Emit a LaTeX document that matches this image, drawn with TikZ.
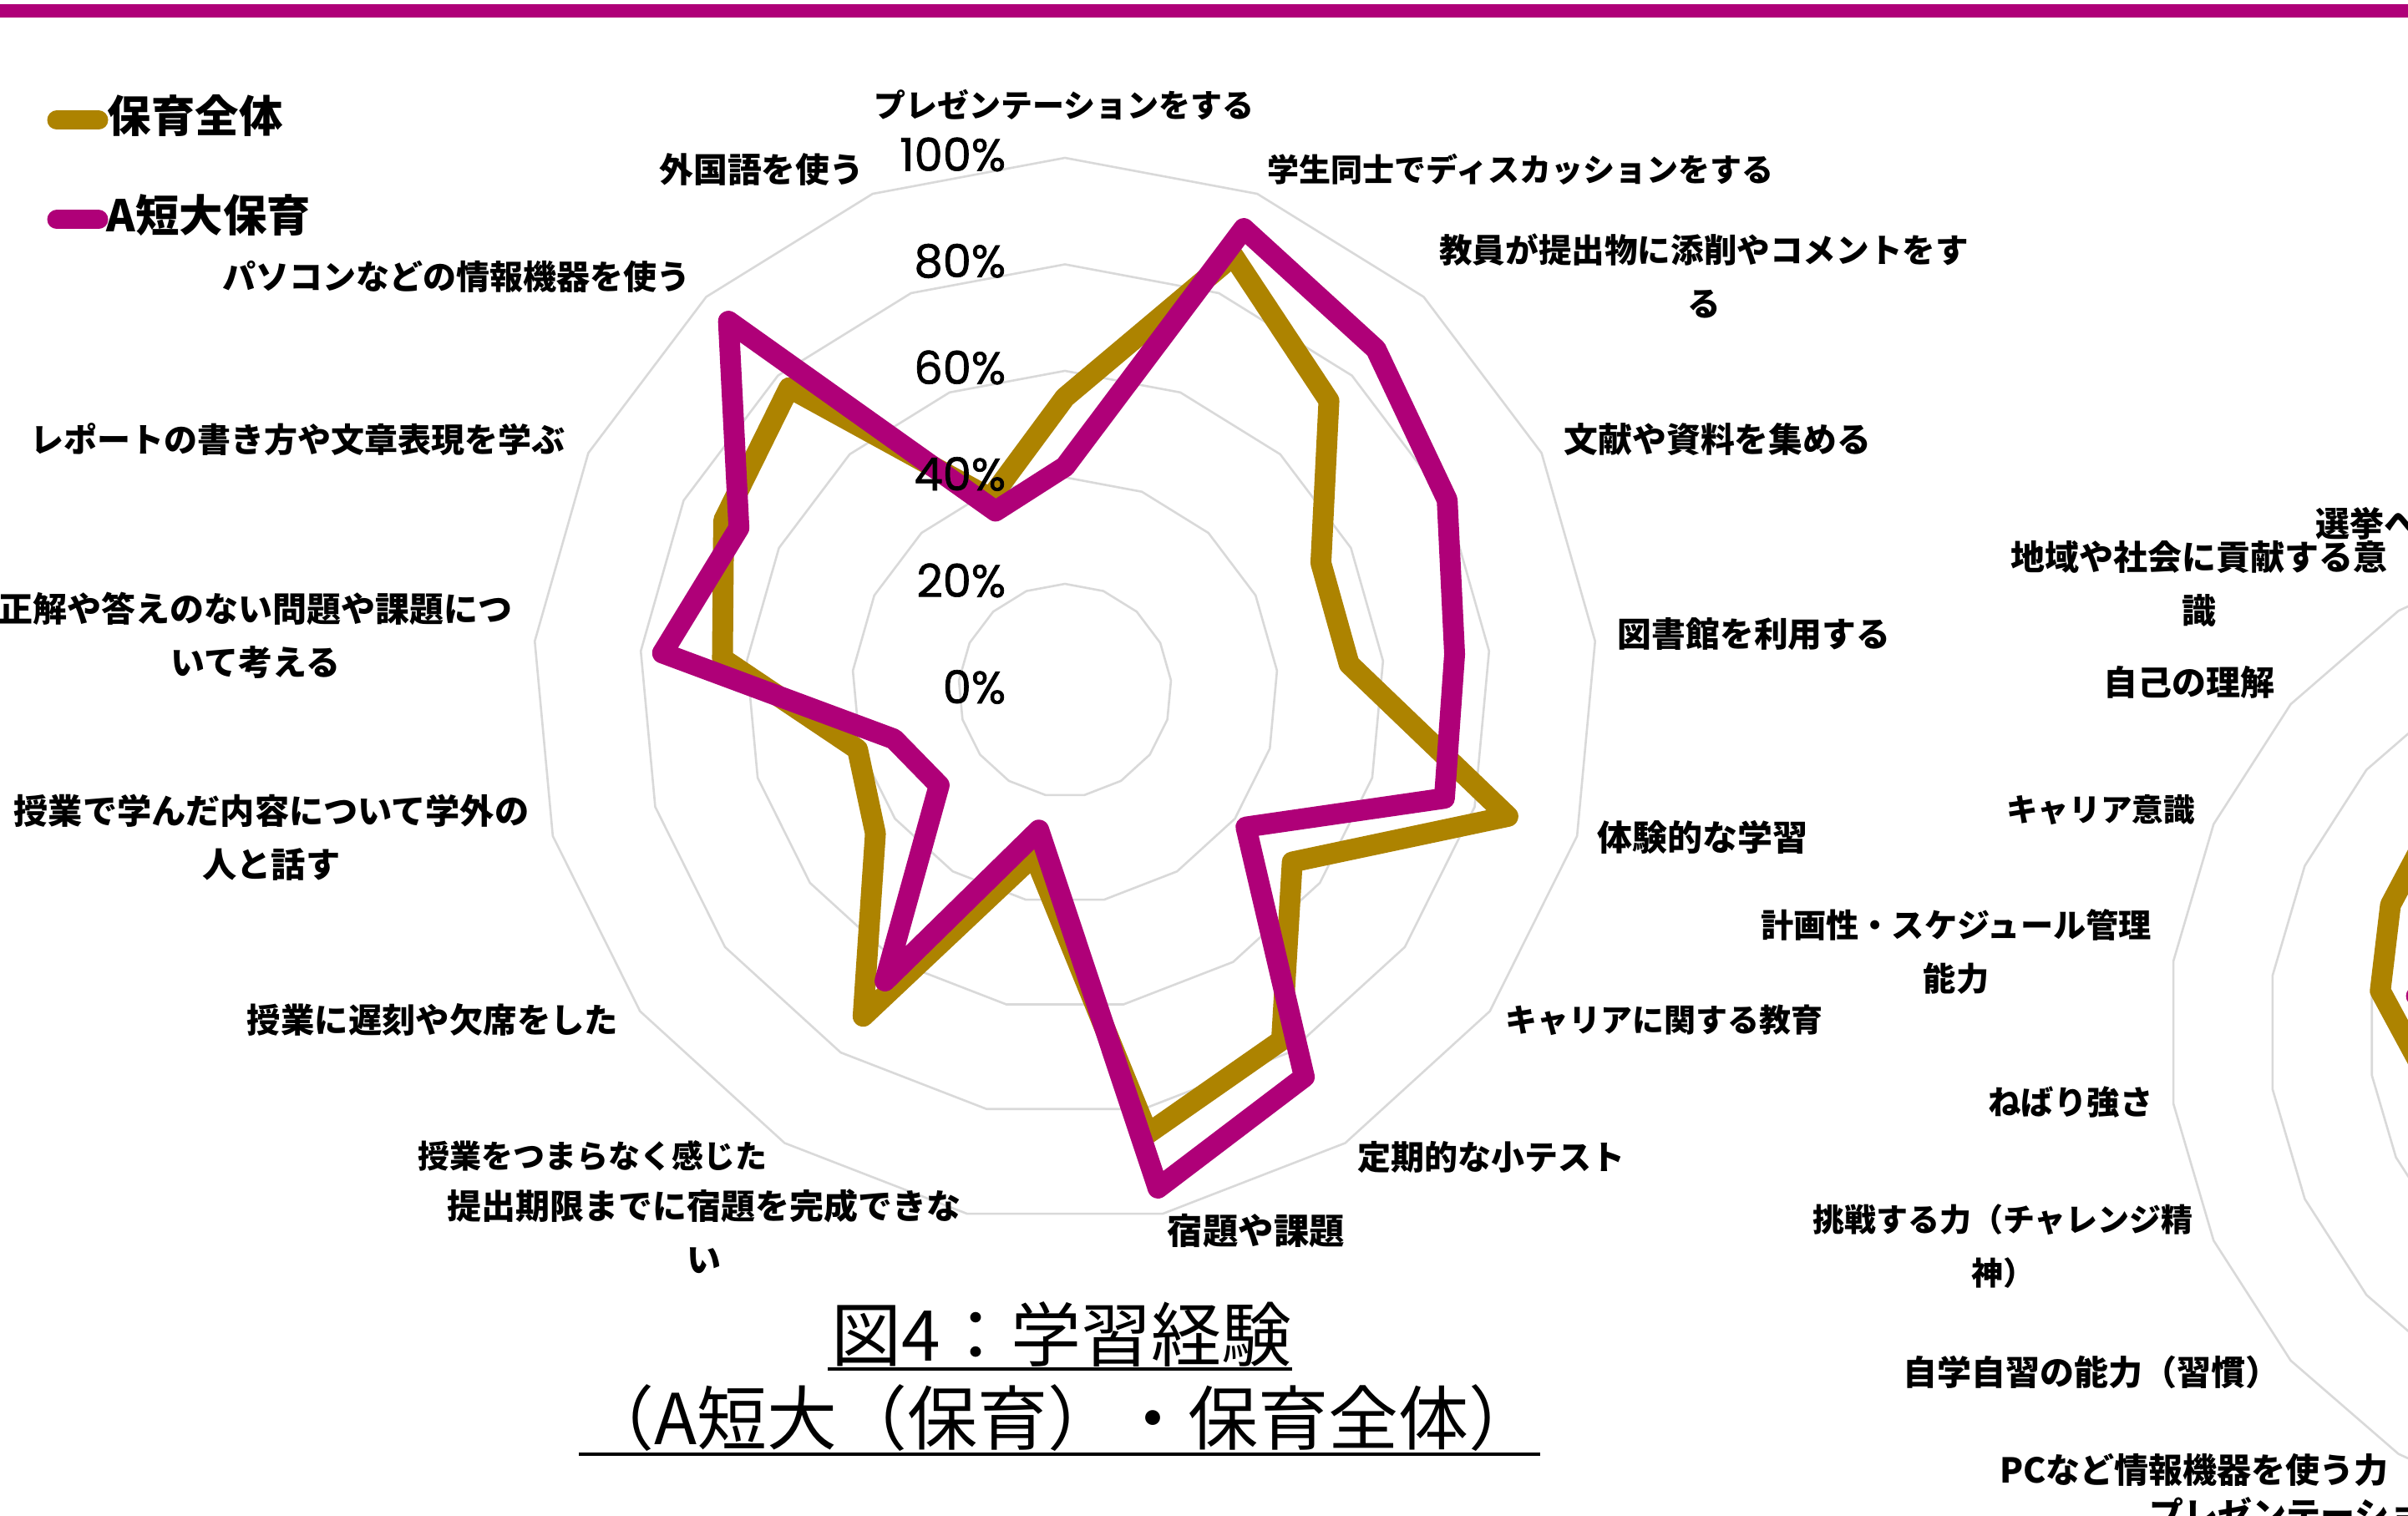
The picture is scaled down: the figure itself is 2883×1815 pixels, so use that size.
\documentclass[tikz,border=0pt]{standalone}
\usepackage{fontspec}
\setmainfont{Noto Sans CJK JP}
\newfontfamily\tickfont{Poppins}[FakeBold=1.2]
\definecolor{gold}{HTML}{AD8300}
\definecolor{plum}{HTML}{AF0078}
\definecolor{gridgray}{HTML}{D9D9D9}
\begin{document}
\begin{tikzpicture}[x=0.25pt,y=-0.25pt,
  lab/.style={font=\bfseries\fontsize{#1}{16}\selectfont, inner sep=0pt, align=center},
  lab/.default=9.5,
  labr/.style={font=\bfseries\fontsize{#1}{16}\selectfont, inner sep=0pt, align=center},
  labr/.default=10.25,
  leg/.style={font=\bfseries\fontsize{13.1}{16}\selectfont, inner sep=0pt, anchor=west},
  ticklab/.style={font=\tickfont\fontsize{13.6}{14}\selectfont, inner sep=0pt, anchor=east},
  titl/.style={font=\fontsize{21}{24}\selectfont, inner sep=0pt},
  ring/.style={draw=gridgray, line width=0.65pt, line join=miter},
  serie/.style={line width=6.25pt, line join=round, line cap=round},
  legline/.style={line width=5.75pt, line cap=round},
]
\useasboundingbox (0,0) rectangle (2883,1815);
\fill[white] (0,0) rectangle (2883,1815);
\fill[plum] (0,5) rectangle (2883,21);

% ---------- left radar chart ----------
\begin{scope}[shift={(1275,826.5)}]
  \foreach \k in {1,...,5}
    \draw[ring] (-90:{127.5*\k}) \foreach \i in {1,...,16}{ -- ({-90+\i*360/17}:{127.5*\k}) } -- cycle;
  \draw[serie, draw=gold] (-90:{6.375*55})
    \foreach \v [count=\i] in {87.5,73.6,53.7,53.6,86.5,53.5,77.3,84.7,31.5,72,44.6,40.5,64.6,71.6,76.9,38.7}
      { -- ({-90+\i*360/17}:{6.375*\v}) } -- cycle;
  \draw[serie, draw=plum] (-90:{6.375*42})
    \foreach \v [count=\i] in {93,86.7,80.2,73.5,74.1,42.6,85.4,95.1,26.7,64.2,29.6,33.4,75.9,68.4,93.8,36.1}
      { -- ({-90+\i*360/17}:{6.375*\v}) } -- cycle;
\end{scope}

\node[ticklab] (t100) at (1205,185) {100\%};
\node[ticklab] (t80) at (1205,312.5) {80\%};
\node[ticklab] (t60) at (1205,440) {60\%};
\node[ticklab] (t40) at (1205,567.5) {40\%};
\node[ticklab] (t20) at (1205,695) {20\%};
\node[ticklab] (t0) at (1205,822.5) {0\%};

\node[lab] (l0) at (1274,125) {プレゼンテーションをする};
\node[lab, anchor=west] (l1) at (1517,203) {学生同士でディスカッションをする};
\node[lab=9.9] (l2) at (2040,330) {教員が提出物に添削やコメントをす\\る};
\node[lab=10.2, anchor=west] (l3) at (1872,526) {文献や資料を集める};
\node[lab=10.2, anchor=west] (l4) at (1936,759) {図書館を利用する};
\node[lab=10.5, anchor=west] (l5) at (1912,1002) {体験的な学習};
\node[lab, anchor=west] (l6) at (1802,1221) {キャリアに関する教育};
\node[lab=10, anchor=west] (l7) at (1625,1385) {定期的な小テスト};
\node[lab=10.6, anchor=west] (l8) at (1397,1474) {宿題や課題};
\node[lab=10.25] (l9) at (843,1474) {提出期限までに宿題を完成できな\\い};
\node[lab, anchor=east] (l10) at (919,1384) {授業をつまらなく感じた};
\node[lab=10.1, anchor=east] (l11) at (741,1221) {授業に遅刻や欠席をした};
\node[lab=10.3] (l12) at (325,1003) {授業で学んだ内容について学外の\\人と話す};
\node[lab=10.25] (l13) at (306,761) {正解や答えのない問題や課題につ\\いて考える};
\node[lab=10, anchor=east] (l14) at (677,526) {レポートの書き方や文章表現を学ぶ};
\node[lab=10, anchor=east] (l15) at (827,331) {パソコンなどの情報機器を使う};
\node[lab=10.2, anchor=east] (l16) at (1035,203) {外国語を使う};

% ---------- right radar chart (cut off) ----------
\begin{scope}[shift={(3196,1236)}]
  \foreach \k in {1,...,5}
    \draw[ring] (-90:{120*\k}) \foreach \i in {1,...,21}{ -- ({-90+\i*360/22}:{120*\k}) } -- cycle;
  \draw[serie, draw=gold] ({-90+15*360/22}:{6*50}) -- ({-90+16*360/22}:{6*49.9})
    -- ({-90+17*360/22}:{6*58.3}) -- ({-90+18*360/22}:{6*61.2})
    -- ({-90+19*360/22}:{6*62.7}) -- ({-90+20*360/22}:{6*60});
  \draw[serie, draw=plum] ({-90+16*360/22}:{6*40}) -- ({-90+17*360/22}:{6*51})
    -- ({-90+18*360/22}:{6*45});
\end{scope}

\node[labr, anchor=west] (r0) at (2772,627) {選挙へ};
\node[labr] (r1) at (2633,699) {地域や社会に貢献する意\\識};
\node[labr] (r2) at (2621,817) {自己の理解};
\node[labr=9.4] (r3) at (2515,970) {キャリア意識};
\node[labr=9.8] (r4) at (2342,1140) {計画性・スケジュール管理\\能力};
\node[labr=9.85] (r5) at (2479,1320) {ねばり強さ};
\node[labr=9.5] (r6) at (2398,1492) {挑戦する力（チャレンジ精\\神）};
\node[labr] (r7) at (2504,1643) {自学自習の能力（習慣）};
\node[labr] (r8) at (2627,1760) {PCなど情報機器を使う力};
\node[labr, anchor=west] (r9) at (2573,1812) {プレゼンテーション};

% ---------- legend ----------
\draw[legline, draw=gold] (68,144) -- (118,144);
\node[leg] (lg1) at (128,139) {保育全体};
\draw[legline, draw=plum] (68,263) -- (118,263);
\node[leg] (lg2) at (127,258) {A短大保育};

% ---------- title ----------
\node[titl] (ti1) at (1271,1598) {図4：学習経験};
\node[titl] (ti2) at (1271,1698) {（A短大（保育）・保育全体）};
\draw[line width=1pt] (991,1639) -- (1547,1639);
\draw[line width=1pt] (693,1741) -- (1844,1741);
\end{tikzpicture}
\end{document}
